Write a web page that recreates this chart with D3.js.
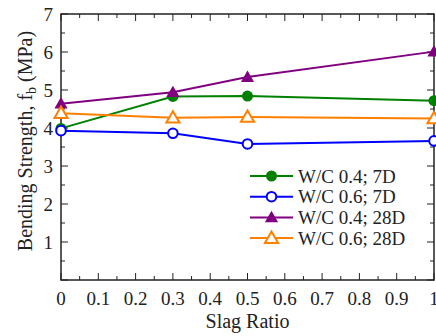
<!DOCTYPE html>
<meta charset="utf-8">
<style>
body { margin: 0; background: #fff; }
.line { fill: none; stroke-width: 2px; }
</style>
<body>
<script src="https://d3js.org/d3.v7.min.js"></script>
<script>

// data
var slagRatio = [0, 0.3, 0.5, 1];
var wc04_7d  = [3.99, 4.83, 4.84, 4.72];
var wc06_7d  = [3.93, 3.86, 3.58, 3.66];
var wc04_28d = [4.64, 4.94, 5.34, 6.01];
var wc06_28d = [4.39, 4.27, 4.29, 4.25];
var seriesNames = ["W/C 0.4; 7D", "W/C 0.6; 7D", "W/C 0.4; 28D", "W/C 0.6; 28D"];
var xTicks = [0, 0.1, 0.2, 0.3, 0.4, 0.5, 0.6, 0.7, 0.8, 0.9, 1];
var yTicks = [1, 2, 3, 4, 5, 6, 7];

var series = [
  {name: seriesNames[0], values: wc04_7d,  color: "#008000", shape: "circle",   filled: true},
  {name: seriesNames[1], values: wc06_7d,  color: "#0000ff", shape: "circle",   filled: false},
  {name: seriesNames[2], values: wc04_28d, color: "#800080", shape: "triangle", filled: true},
  {name: seriesNames[3], values: wc06_28d, color: "#ff8000", shape: "triangle", filled: false}
];

var serif = "Liberation Serif";

var margin = {top: 14, left: 61},
    width = 434 - margin.left,
    height = 280 - margin.top;

var svg = d3.select("body").append("svg")
    .attr("width", 436)
    .attr("height", 336)
  .append("g")
    .attr("transform", "translate(" + margin.left + "," + margin.top + ")");

var x = d3.scaleLinear().domain([0, 1]).range([0, width]);
var y = d3.scaleLinear().domain([0, 7]).range([height, 0]);

// ticks (inward, on all four sides)
var xMinor = d3.range(0, 1.0001, 0.05);
var yMinor = d3.range(0, 7.0001, 0.5);
function isMajor(v, step) { return Math.abs(v / step - Math.round(v / step)) < 1e-6; }

var tickG = svg.append("g").attr("stroke", "#222").attr("stroke-width", 1);
xMinor.forEach(function(v) {
  var len = isMajor(v, 0.1) ? 7 : 4;
  tickG.append("line").attr("x1", x(v)).attr("x2", x(v)).attr("y1", height).attr("y2", height - len);
  tickG.append("line").attr("x1", x(v)).attr("x2", x(v)).attr("y1", 0).attr("y2", len);
});
yMinor.forEach(function(v) {
  var len = isMajor(v, 1) ? 7 : 4;
  tickG.append("line").attr("x1", 0).attr("x2", len).attr("y1", y(v)).attr("y2", y(v));
  tickG.append("line").attr("x1", width).attr("x2", width - len).attr("y1", y(v)).attr("y2", y(v));
});

// frame
svg.append("rect")
    .attr("width", width).attr("height", height)
    .attr("fill", "none").attr("stroke", "#222").attr("stroke-width", 1.5);

// tick labels
svg.selectAll(".xlab").data(xTicks).enter().append("text")
    .attr("x", function(d) { return x(d); })
    .attr("y", height + 25)
    .attr("text-anchor", "middle")
    .attr("font-family", serif)
    .attr("fill", "#222")
    .style("font-size", "19px")
    .text(function(d) { return d; });

svg.selectAll(".ylab").data(yTicks).enter().append("text")
    .attr("x", -8)
    .attr("y", function(d) { return y(d); })
    .attr("dy", "0.35em")
    .attr("text-anchor", "end")
    .attr("font-family", serif)
    .attr("fill", "#222")
    .style("font-size", "19px")
    .text(function(d) { return d; });

// axis titles
svg.append("text")
    .attr("x", width / 2)
    .attr("y", height + 48)
    .attr("text-anchor", "middle")
    .attr("font-family", serif)
    .attr("fill", "#222")
    .style("font-size", "20px")
    .text("Slag Ratio");

var yt = svg.append("text")
    .attr("transform", "translate(-29," + (height / 2 - 6) + ") rotate(-90)")
    .attr("text-anchor", "middle")
    .attr("font-family", serif)
    .attr("fill", "#222")
    .style("font-size", "20px");
yt.append("tspan").text("Bending Strength, f");
yt.append("tspan").attr("baseline-shift", "-25%").style("font-size", "14px").text("b");
yt.append("tspan").text(" (MPa)");

// lines and markers
var line = d3.line()
    .x(function(d, i) { return x(slagRatio[i]); })
    .y(function(d) { return y(d); });

var triangle = d3.symbol().type(d3.symbolTriangle).size(75);

function marker(g, s, cx, cy) {
  if (s.shape === "circle") {
    g.append("circle")
        .attr("cx", cx).attr("cy", cy).attr("r", s.filled ? 5.5 : 4.8)
        .attr("fill", s.filled ? s.color : "#fff")
        .attr("stroke", s.color).attr("stroke-width", s.filled ? 0 : 2);
  } else {
    g.append("path")
        .attr("d", triangle)
        .attr("transform", "translate(" + cx + "," + (cy + 1) + ")")
        .attr("fill", s.filled ? s.color : "#fff")
        .attr("stroke", s.color).attr("stroke-width", s.filled ? 0 : 2);
  }
}

series.forEach(function(s) {
  svg.append("path")
      .datum(s.values)
      .attr("class", "line")
      .attr("stroke", s.color)
      .attr("d", line);
  var g = svg.append("g");
  s.values.forEach(function(v, i) { marker(g, s, x(slagRatio[i]), y(v)); });
});

// legend
var legend = svg.append("g").attr("transform", "translate(189,162)");
series.forEach(function(s, i) {
  var row = legend.append("g").attr("transform", "translate(0," + (i * 20.7) + ")");
  row.append("line").attr("x1", 0).attr("x2", 43).attr("y1", 0).attr("y2", 0)
      .attr("stroke", s.color).attr("stroke-width", 2);
  marker(row, s, 21.5, 0);
  row.append("text")
      .attr("x", 48).attr("y", 0).attr("dy", "0.35em")
      .attr("font-family", serif)
      .attr("fill", "#222")
      .style("font-size", "19px")
      .text(s.name);
});

</script>
</body>
